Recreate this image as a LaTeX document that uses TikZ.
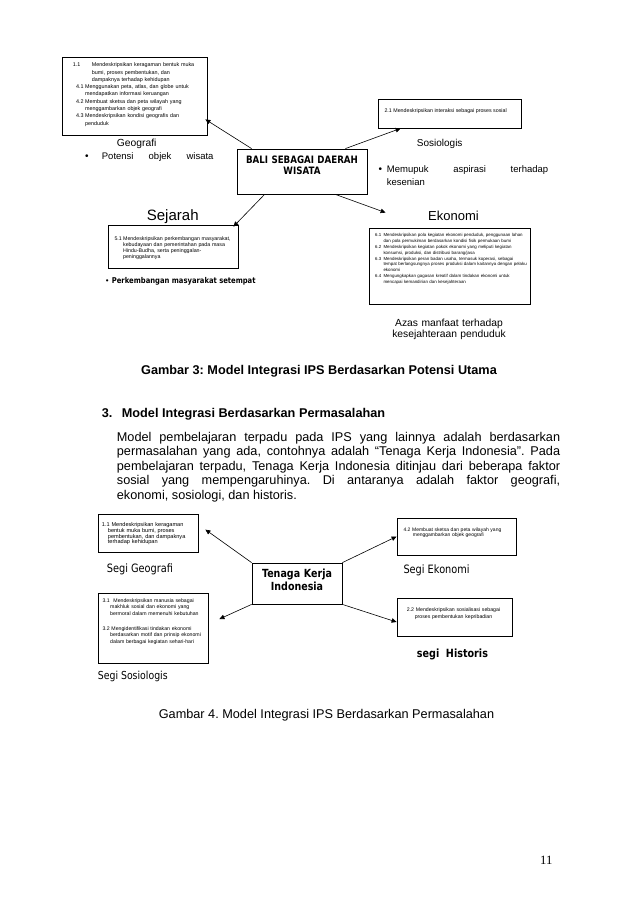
\documentclass[tikz,border=0pt]{standalone}
\usepackage{fontspec}
\setmainfont{Liberation Sans}
\newfontfamily\tah[FakeStretch=0.85]{DejaVu Sans}
\newfontfamily\serf{Liberation Serif}
\usetikzlibrary{arrows.meta}
\frenchspacing
\begin{document}
\begin{tikzpicture}[x=1pt,y=-1pt,
  box/.style={draw, line width=0.8pt, inner sep=0pt},
  arr/.style={line width=0.6pt, -{Triangle[length=5pt,width=4.5pt]}},
  lbl/.style={inner sep=0pt, anchor=base west},
  multi/.style={inner sep=0pt, anchor=base west, align=left, text width=#1},
]
\useasboundingbox[fill=white] (0,0) rectangle (638,903);
\hyphenpenalty=10000

% ---------- Figure 3 ----------
\node[box, minimum width=145pt, minimum height=78pt] (geobox) at (134.5,96) {};
\node[box, minimum width=143pt, minimum height=29pt] (socbox) at (449.5,113.5) {};
\node[box, minimum width=130pt, minimum height=45pt] (bali) at (302,171.5) {};
\node[box, minimum width=130pt, minimum height=43pt] (sejbox) at (173,246.5) {};
\node[box, minimum width=161pt, minimum height=76pt] (ekobox) at (449.5,266) {};

\node[multi=140pt, font=\fontsize{5.4}{7.3}\selectfont] (geotxt) at (72.7,66.7)
 {\makebox[19pt][l]{1.1}Mendeskripsikan keragaman bentuk muka\\
  \hspace*{19pt}bumi, proses pembentukan, dan\\
  \hspace*{19pt}dampaknya terhadap kehidupan\\
  \hspace*{3.3pt}\makebox[9pt][l]{4.1}Menggunakan peta, atlas, dan globe untuk\\
  \hspace*{12.3pt}mendapatkan informasi keruangan\\
  \hspace*{3.3pt}\makebox[9pt][l]{4.2}Membuat sketsa dan peta wilayah yang\\
  \hspace*{12.3pt}menggambarkan objek geografi\\
  \hspace*{3.3pt}\makebox[9pt][l]{4.3}Mendeskripsikan kondisi geografis dan\\
  \hspace*{12.3pt}penduduk};

\node[lbl, font=\fontsize{5.3}{6}\selectfont] (soctxt) at (384.3,112)
 {2.1 Mendeskripsikan interaksi sebagai proses sosial};

\node[multi=130pt, anchor=base, align=center, font=\tah\bfseries\fontsize{10.2}{11.3}\selectfont] (balitxt) at (302,163)
 {BALI SEBAGAI DAERAH\\WISATA};

\node[lbl, font=\fontsize{10.3}{12}\selectfont] (geolbl) at (116.7,146) {Geografi};
\node[lbl, font=\fontsize{10}{12}\selectfont] (geobul) at (85,159.3) {•};
\node[lbl, font=\fontsize{9.5}{12}\selectfont] (geopot) at (101.7,159.3) {\makebox[111.6pt][s]{Potensi objek wisata}};

\node[lbl, font=\fontsize{10}{12}\selectfont] (soclbl) at (416.7,146) {Sosiologis};
\node[lbl, font=\fontsize{10}{12}\selectfont] (socbul) at (378.3,172.7) {•};
\node[lbl, font=\fontsize{9.5}{12}\selectfont] (socmem) at (386.7,172.7) {\makebox[161.3pt][s]{Memupuk aspirasi terhadap}};
\node[lbl, font=\fontsize{9.5}{12}\selectfont] (socsen) at (386.7,185) {kesenian};

\node[lbl, font=\fontsize{15}{16}\selectfont] (sejlbl) at (146.7,220.7) {Sejarah};
\node[multi=128pt, font=\fontsize{5.3}{6}\selectfont] (sejtxt) at (114.3,240)
 {\makebox[8.6pt][l]{5.1}Mendeskripsikan perkembangan masyarakat,\\
  \hspace*{8.6pt}kebudayaan dan pemerintahan pada masa\\
  \hspace*{8.6pt}Hindu-Budha, serta peninggalan-\\
  \hspace*{8.6pt}peninggalannya};
\node[lbl, font=\fontsize{8}{10}\selectfont] (sejbul) at (105.7,283) {•};
\node[lbl, font=\tah\bfseries\fontsize{8}{10}\selectfont] (sejper) at (111.7,283) {Perkembangan masyarakat setempat};

\node[lbl, font=\fontsize{13}{15}\selectfont] (ekolbl) at (428,220) {Ekonomi};
\node[multi=165pt, font=\fontsize{4.4}{5.85}\selectfont] (ekotxt) at (375,236.7)
 {\makebox[8.3pt][l]{6.1}Mendeskripsikan pola kegiatan ekonomi penduduk, penggunaan lahan\\
  \hspace*{8.3pt}dan pola permukiman berdasarkan kondisi fisik permukaan bumi\\
  \makebox[8.3pt][l]{6.2}Mendeskripsikan kegiatan pokok ekonomi yang meliputi kegiatan\\
  \hspace*{8.3pt}konsumsi, produksi, dan distribusi barang/jasa\\
  \makebox[8.3pt][l]{6.3}Mendeskripsikan peran badan usaha, termasuk koperasi, sebagai\\
  \hspace*{8.3pt}tempat berlangsungnya proses produksi dalam kaitannya dengan pelaku\\
  \hspace*{8.3pt}ekonomi\\
  \makebox[8.3pt][l]{6.4}Mengungkapkan gagasan kreatif dalam tindakan ekonomi untuk\\
  \hspace*{8.3pt}mencapai kemandirian dan kesejahteraan};

\node[multi=160pt, anchor=base, align=center, font=\fontsize{10.3}{11.7}\selectfont] (azas) at (449,326)
 {Azas manfaat terhadap\\kesejahteraan penduduk};

\draw[arr] ([xshift=15pt]bali.north west) -- ([xshift=-2pt,yshift=16pt]geobox.south east);
\draw[arr] ([xshift=-22pt]bali.north east) -- ([xshift=23pt]socbox.south west);
\draw[arr] ([xshift=28pt]bali.south west) -- ([xshift=-5pt,yshift=-2pt]sejbox.north east);
\draw[arr] ([xshift=-32pt]bali.south east) -- ([xshift=17pt,yshift=15pt]ekobox.north west);

\node[lbl, anchor=base, font=\bfseries\fontsize{12.7}{14}\selectfont] (cap3) at (319,374)
 {Gambar 3: Model Integrasi IPS Berdasarkan Potensi Utama};

% ---------- Section text ----------
\node[lbl, font=\bfseries\fontsize{12.7}{14}\selectfont] (hnum) at (101.7,417.7) {3.};
\node[lbl, font=\bfseries\fontsize{12.7}{14}\selectfont] (head) at (121.7,417.7) {Model Integrasi Berdasarkan Permasalahan};
\node[multi=443.3pt, align=justify, font=\fontsize{12.7}{14.6}\selectfont] (para) at (116.7,441)
 {Model pembelajaran terpadu pada IPS yang lainnya adalah berdasarkan\linebreak
  permasalahan yang ada, contohnya adalah “Tenaga Kerja Indonesia”. Pada\linebreak
  pembelajaran terpadu, Tenaga Kerja Indonesia ditinjau dari beberapa faktor\linebreak
  sosial yang mempengaruhinya. Di antaranya adalah faktor geografi,\linebreak
  ekonomi, sosiologi, dan historis.};

% ---------- Figure 4 ----------
\node[box, minimum width=100pt, minimum height=38pt] (box11) at (148,533) {};
\node[box, minimum width=110pt, minimum height=70pt] (box31) at (153,628) {};
\node[box, minimum width=119pt, minimum height=37pt] (box42) at (456.5,536.5) {};
\node[box, minimum width=115pt, minimum height=38pt] (box22) at (454.5,617) {};
\node[box, minimum width=90pt, minimum height=41pt] (tk) at (297,583.5) {};

\node[multi=95pt, font=\fontsize{5.6}{5.8}\selectfont] (t11) at (101.7,526.5)
 {1.1 Mendeskripsikan keragaman\\
  \hspace*{6pt}bentuk muka bumi, proses\\
  \hspace*{6pt}pembentukan, dan dampaknya\\
  \hspace*{6pt}terhadap kehidupan};
\node[multi=105pt, font=\fontsize{5.2}{6.3}\selectfont] (t31) at (102.3,602.5)
 {3.1\hspace{2pt} Mendeskripsikan manusia sebagai\\
  \hspace*{7.7pt}makhluk sosial dan ekonomi yang\\
  \hspace*{7.7pt}bermoral dalam memenuhi kebutuhan\\[9pt]
  3.2 Mengidentifikasi tindakan ekonomi\\
  \hspace*{7.7pt}berdasarkan motif dan prinsip ekonomi\\
  \hspace*{7.7pt}dalam berbagai kegiatan sehari-hari};
\node[multi=110pt, font=\fontsize{5}{5}\selectfont] (t42) at (403.3,531.5)
 {4.2 Membuat sketsa dan peta wilayah yang\\
  \hspace*{9.4pt}menggambarkan objek geografi};
\node[multi=110pt, anchor=base, align=center, font=\fontsize{5.2}{6.5}\selectfont] (t22) at (453.5,611.5)
 {2.2 Mendeskripsikan sosialisasi sebagai\\proses pembentukan kepribadian};
\node[multi=90pt, anchor=base, align=center, font=\tah\bfseries\fontsize{11.2}{12.7}\selectfont] (tktxt) at (297,577.3)
 {Tenaga Kerja\\Indonesia};

\node[lbl, font=\tah\fontsize{11.5}{13}\selectfont] (segigeo) at (106.7,572.3) {Segi Geografi};
\node[lbl, font=\tah\fontsize{11}{13}\selectfont] (segisos) at (97.7,679) {Segi Sosiologis};
\node[lbl, font=\tah\fontsize{11.5}{13}\selectfont] (segieko) at (403.3,573.3) {Segi Ekonomi};
\node[lbl, font=\tah\bfseries\fontsize{11.3}{13}\selectfont] (segihis) at (416.7,657.7) {segi\ \ Historis};

\draw[arr] (tk.north west) -- ([xshift=7pt,yshift=-16pt]box11.north east);
\draw[arr] (tk.south west) -- ([xshift=11pt,yshift=9pt]box31.east);
\draw[arr] (tk.north east) -- (box42.west);
\draw[arr] (tk.south east) -- ([yshift=-5pt]box22.west);

\node[lbl, anchor=base, font=\fontsize{12.7}{14}\selectfont] (cap4) at (326.5,718.3)
 {Gambar 4. Model Integrasi IPS Berdasarkan Permasalahan};

\node[lbl, font=\serf\fontsize{12.7}{14}\selectfont] (pnum) at (540,864) {11};
\end{tikzpicture}
\end{document}
